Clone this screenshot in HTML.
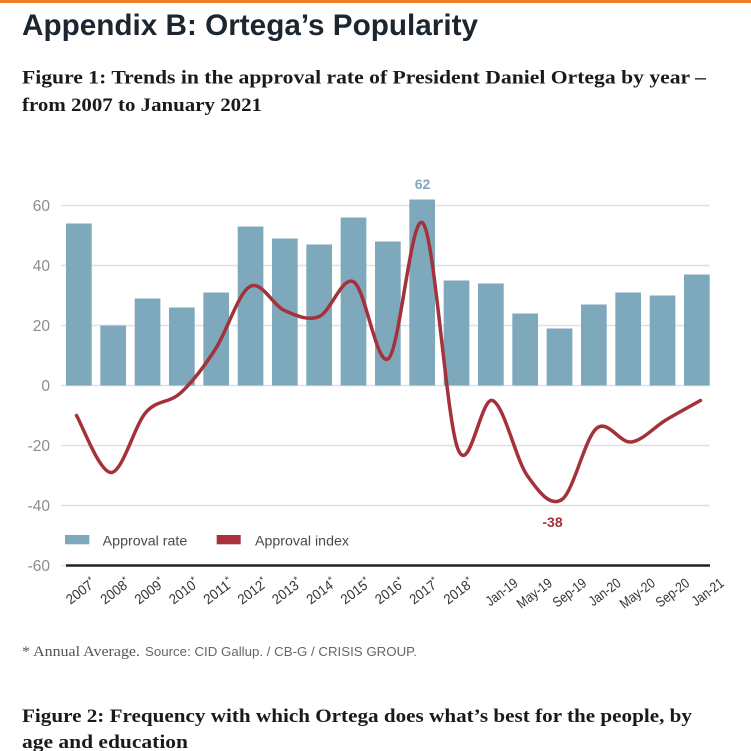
<!DOCTYPE html>
<html>
<head>
<meta charset="utf-8">
<style>
  html, body { margin: 0; padding: 0; background: #ffffff; }
  svg { display: block; }
</style>
</head>
<body>
<svg width="751" height="751" viewBox="0 0 751 751" xmlns="http://www.w3.org/2000/svg">
  <rect x="0" y="0" width="751" height="751" fill="#ffffff"/>
  <rect x="0" y="0" width="751" height="3" fill="#ef7d22"/>

  <!-- Title -->
  <text x="22" y="35" font-family="Liberation Sans, sans-serif" font-weight="bold" font-size="30" fill="#1b2630" textLength="456" lengthAdjust="spacingAndGlyphs">Appendix B: Ortega’s Popularity</text>

  <!-- Subtitle -->
  <text x="22" y="83.5" font-family="Liberation Serif, serif" font-weight="bold" font-size="19" fill="#1a1a1a" textLength="684" lengthAdjust="spacingAndGlyphs">Figure 1: Trends in the approval rate of President Daniel Ortega by year –</text>
  <text x="22" y="111" font-family="Liberation Serif, serif" font-weight="bold" font-size="19" fill="#1a1a1a" textLength="240" lengthAdjust="spacingAndGlyphs">from 2007 to January 2021</text>

  <!-- Gridlines -->
  <g stroke="#e0e0e0" stroke-width="1.5">
    <line x1="61" y1="205.5" x2="710" y2="205.5"/>
    <line x1="61" y1="265.5" x2="710" y2="265.5"/>
    <line x1="61" y1="325.5" x2="710" y2="325.5"/>
    <line x1="61" y1="385.5" x2="710" y2="385.5"/>
    <line x1="61" y1="445.5" x2="710" y2="445.5"/>
    <line x1="61" y1="505.5" x2="710" y2="505.5"/>
    <line x1="61" y1="565.5" x2="710" y2="565.5"/>
  </g>
  <line x1="66" y1="565.5" x2="710" y2="565.5" stroke="#222222" stroke-width="2.5"/>

  <!-- Y tick labels -->
  <g font-family="Liberation Sans, sans-serif" font-size="15.5" fill="#8c8c8c" text-anchor="end">
    <text x="50" y="211">60</text>
    <text x="50" y="271">40</text>
    <text x="50" y="331">20</text>
    <text x="50" y="391">0</text>
    <text x="50" y="451">-20</text>
    <text x="50" y="511">-40</text>
    <text x="50" y="571">-60</text>
  </g>

  <!-- Bars -->
  <g fill="#7ea9bd">
    <rect x="66" y="223.5" width="25.7" height="162"/>
    <rect x="100.33" y="325.5" width="25.7" height="60"/>
    <rect x="134.67" y="298.5" width="25.7" height="87"/>
    <rect x="169" y="307.5" width="25.7" height="78"/>
    <rect x="203.33" y="292.5" width="25.7" height="93"/>
    <rect x="237.67" y="226.5" width="25.7" height="159"/>
    <rect x="272" y="238.5" width="25.7" height="147"/>
    <rect x="306.33" y="244.5" width="25.7" height="141"/>
    <rect x="340.67" y="217.5" width="25.7" height="168"/>
    <rect x="375" y="241.5" width="25.7" height="144"/>
    <rect x="409.33" y="199.5" width="25.7" height="186"/>
    <rect x="443.67" y="280.5" width="25.7" height="105"/>
    <rect x="478" y="283.5" width="25.7" height="102"/>
    <rect x="512.33" y="313.5" width="25.7" height="72"/>
    <rect x="546.67" y="328.5" width="25.7" height="57"/>
    <rect x="581" y="304.5" width="25.7" height="81"/>
    <rect x="615.33" y="292.5" width="25.7" height="93"/>
    <rect x="649.67" y="295.5" width="25.7" height="90"/>
    <rect x="684" y="274.5" width="25.7" height="111"/>
  </g>

  <!-- Approval index line -->
  <path fill="none" stroke="#a3323b" stroke-width="3.5" stroke-linecap="round" stroke-linejoin="round"
    d="M76.5,415.5
       C82.28,425 99.64,473 111.2,472.5
       C122.76,472 134.24,425.75 145.8,412.5
       C157.36,399.25 168.94,403.5 180.5,393
       C192.06,382.5 203.64,367.25 215.2,349.5
       C226.76,331.75 238.34,293 249.9,286.5
       C261.46,280 272.94,305.5 284.5,310.5
       C296.06,315.5 307.64,321.25 319.2,316.5
       C330.76,311.75 342.34,275 353.9,282
       C365.46,289 376.94,368.25 388.5,358.5
       C400.06,348.75 411.64,208.42 423.2,223.5
       C434.76,238.58 446.34,419.5 457.9,449
       C469.46,478.5 480.94,396.08 492.5,400.5
       C504.06,404.92 515.64,459 527.2,475.5
       C538.76,492 550.34,507.35 561.9,499.5
       C573.46,491.65 584.94,437.98 596.5,428.4
       C608.06,418.82 619.64,443.4 631.2,442
       C642.76,440.6 654.34,426.92 665.9,420
       C677.46,413.08 694.72,403.75 700.5,400.5"/>

  <!-- Value labels -->
  <text x="422.5" y="189" font-family="Liberation Sans, sans-serif" font-weight="bold" font-size="14" fill="#7ea9bd" text-anchor="middle">62</text>
  <text x="552.5" y="527" font-family="Liberation Sans, sans-serif" font-weight="bold" font-size="14" fill="#a3323b" text-anchor="middle">-38</text>

  <!-- Legend -->
  <rect x="65" y="535" width="24.3" height="9.3" fill="#7ea9bd"/>
  <text x="102.7" y="545.5" font-family="Liberation Sans, sans-serif" font-size="14" fill="#4a4a4a" textLength="84.6" lengthAdjust="spacingAndGlyphs">Approval rate</text>
  <rect x="216.7" y="535" width="24" height="9.3" fill="#a8313a"/>
  <text x="255" y="545.5" font-family="Liberation Sans, sans-serif" font-size="14" fill="#4a4a4a" textLength="94" lengthAdjust="spacingAndGlyphs">Approval index</text>

  <!-- X labels -->
  <g font-family="Liberation Sans, sans-serif" font-size="14" fill="#333333" text-anchor="end">
    <text transform="translate(96.85,585) rotate(-37)" textLength="33" lengthAdjust="spacingAndGlyphs">2007<tspan font-size="10" dy="-5">*</tspan></text>
    <text transform="translate(131.18,585) rotate(-37)" textLength="33" lengthAdjust="spacingAndGlyphs">2008<tspan font-size="10" dy="-5">*</tspan></text>
    <text transform="translate(165.52,585) rotate(-37)" textLength="33" lengthAdjust="spacingAndGlyphs">2009<tspan font-size="10" dy="-5">*</tspan></text>
    <text transform="translate(199.85,585) rotate(-37)" textLength="33" lengthAdjust="spacingAndGlyphs">2010<tspan font-size="10" dy="-5">*</tspan></text>
    <text transform="translate(234.18,585) rotate(-37)" textLength="33" lengthAdjust="spacingAndGlyphs">2011<tspan font-size="10" dy="-5">*</tspan></text>
    <text transform="translate(268.52,585) rotate(-37)" textLength="33" lengthAdjust="spacingAndGlyphs">2012<tspan font-size="10" dy="-5">*</tspan></text>
    <text transform="translate(302.85,585) rotate(-37)" textLength="33" lengthAdjust="spacingAndGlyphs">2013<tspan font-size="10" dy="-5">*</tspan></text>
    <text transform="translate(337.18,585) rotate(-37)" textLength="33" lengthAdjust="spacingAndGlyphs">2014<tspan font-size="10" dy="-5">*</tspan></text>
    <text transform="translate(371.52,585) rotate(-37)" textLength="33" lengthAdjust="spacingAndGlyphs">2015<tspan font-size="10" dy="-5">*</tspan></text>
    <text transform="translate(405.85,585) rotate(-37)" textLength="33" lengthAdjust="spacingAndGlyphs">2016<tspan font-size="10" dy="-5">*</tspan></text>
    <text transform="translate(440.18,585) rotate(-37)" textLength="33" lengthAdjust="spacingAndGlyphs">2017<tspan font-size="10" dy="-5">*</tspan></text>
    <text transform="translate(474.52,585) rotate(-37)" textLength="33" lengthAdjust="spacingAndGlyphs">2018<tspan font-size="10" dy="-5">*</tspan></text>
    <text transform="translate(518.85,585) rotate(-37)" textLength="36" lengthAdjust="spacingAndGlyphs">Jan-19</text>
    <text transform="translate(553.18,585) rotate(-37)" textLength="40" lengthAdjust="spacingAndGlyphs">May-19</text>
    <text transform="translate(587.52,585) rotate(-37)" textLength="38" lengthAdjust="spacingAndGlyphs">Sep-19</text>
    <text transform="translate(621.85,585) rotate(-37)" textLength="36" lengthAdjust="spacingAndGlyphs">Jan-20</text>
    <text transform="translate(656.18,585) rotate(-37)" textLength="40" lengthAdjust="spacingAndGlyphs">May-20</text>
    <text transform="translate(690.52,585) rotate(-37)" textLength="38" lengthAdjust="spacingAndGlyphs">Sep-20</text>
    <text transform="translate(724.85,585) rotate(-37)" textLength="36" lengthAdjust="spacingAndGlyphs">Jan-21</text>
  </g>

  <!-- Footnote -->
  <text x="22" y="656" font-family="Liberation Serif, serif" font-size="15" fill="#555555" textLength="118" lengthAdjust="spacingAndGlyphs">* Annual Average.</text>
  <text x="145" y="656" font-family="Liberation Sans, sans-serif" font-size="12.5" fill="#666666" textLength="272" lengthAdjust="spacingAndGlyphs">Source: CID Gallup. / CB-G / CRISIS GROUP.</text>

  <!-- Figure 2 heading -->
  <text x="22" y="722" font-family="Liberation Serif, serif" font-weight="bold" font-size="19" fill="#1a1a1a" textLength="670" lengthAdjust="spacingAndGlyphs">Figure 2: Frequency with which Ortega does what’s best for the people, by</text>
  <text x="22" y="748" font-family="Liberation Serif, serif" font-weight="bold" font-size="19" fill="#1a1a1a" textLength="166" lengthAdjust="spacingAndGlyphs">age and education</text>
</svg>
</body>
</html>
